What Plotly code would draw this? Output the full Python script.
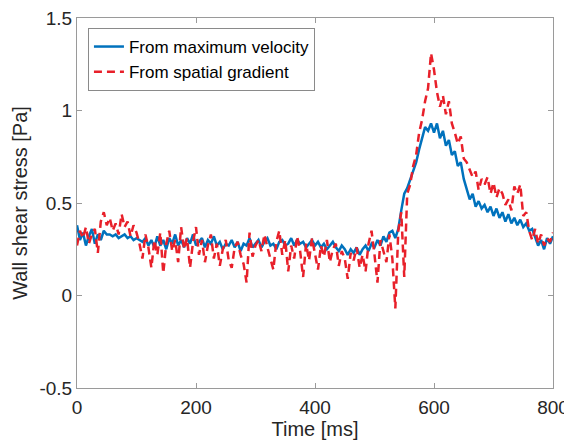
import plotly.graph_objects as go

# time axis [ms], one sample every 5 ms
time_ms = list(range(0, 801, 5))

wss_max_velocity = [
    0.38, 0.30, 0.34, 0.27, 0.32, 0.36, 0.28, 0.33, 0.30, 0.35, 0.33,
    0.33, 0.32, 0.33, 0.31, 0.32, 0.33, 0.31, 0.32, 0.30, 0.31,
    0.30, 0.29, 0.31, 0.27, 0.30, 0.26, 0.32, 0.27, 0.30, 0.25,
    0.31, 0.28, 0.33, 0.27, 0.30, 0.26, 0.31, 0.28, 0.33, 0.27,
    0.29, 0.31, 0.26, 0.30, 0.28, 0.32, 0.27, 0.29, 0.25, 0.28,
    0.27, 0.30, 0.26, 0.29, 0.24, 0.28, 0.27, 0.31, 0.26, 0.28,
    0.30, 0.26, 0.29, 0.31, 0.27, 0.28, 0.25, 0.29, 0.30, 0.27,
    0.28, 0.31, 0.27, 0.30, 0.28, 0.29, 0.26, 0.28, 0.30, 0.27,
    0.29, 0.26, 0.28, 0.25, 0.27, 0.29, 0.26, 0.24, 0.27, 0.25,
    0.22, 0.25, 0.23, 0.26, 0.22, 0.25, 0.27, 0.24, 0.28, 0.26,
    0.30, 0.27, 0.32, 0.29, 0.34, 0.35, 0.31, 0.36, 0.46, 0.55,
    0.58, 0.63, 0.67, 0.72, 0.79, 0.85, 0.91, 0.89, 0.93, 0.88,
    0.93, 0.85, 0.89, 0.81, 0.84, 0.76, 0.78, 0.70, 0.72, 0.63,
    0.58, 0.52, 0.55, 0.48, 0.51, 0.47, 0.49, 0.45, 0.48, 0.43,
    0.47, 0.42, 0.45, 0.40, 0.44, 0.39, 0.42, 0.38, 0.41, 0.37,
    0.39, 0.35, 0.36, 0.31, 0.27, 0.30, 0.25, 0.31, 0.28, 0.32,
]

wss_spatial_gradient = [
    0.27, 0.35, 0.31, 0.37, 0.28, 0.33, 0.36, 0.23, 0.40, 0.45, 0.38,
    0.42, 0.35, 0.39, 0.33, 0.44, 0.37, 0.40, 0.32, 0.38, 0.34,
    0.28, 0.20, 0.33, 0.26, 0.15, 0.30, 0.22, 0.34, 0.12, 0.28,
    0.35, 0.24, 0.30, 0.18, 0.37, 0.25, 0.31, 0.15, 0.29, 0.37,
    0.22, 0.30, 0.18, 0.27, 0.33, 0.20, 0.28, 0.16, 0.25, 0.30,
    0.19, 0.15, 0.26, 0.29, 0.22, 0.17, 0.07, 0.34, 0.21, 0.27,
    0.30, 0.24, 0.33, 0.26, 0.20, 0.14, 0.29, 0.35, 0.22, 0.30,
    0.13, 0.27, 0.20, 0.32, 0.24, 0.10, 0.28, 0.19, 0.31, 0.23,
    0.14, 0.27, 0.21, 0.30, 0.18, 0.25, 0.28, 0.16, 0.24, 0.20,
    0.09, 0.23, 0.19, 0.26, 0.15, 0.22, 0.13, 0.28, 0.35, 0.22,
    0.07, 0.30, 0.24, 0.18, 0.33, 0.20, -0.07, 0.35, 0.45, 0.10,
    0.55, 0.60, 0.70, 0.76, 0.88, 0.95, 1.05, 1.12, 1.31, 1.22,
    1.10, 1.02, 1.08, 0.98, 1.05, 0.93, 0.88, 0.82, 0.86, 0.74,
    0.72, 0.68, 0.64, 0.67, 0.57, 0.63, 0.60, 0.64, 0.55, 0.61,
    0.53, 0.58, 0.55, 0.49, 0.52, 0.46, 0.59, 0.55, 0.60, 0.43,
    0.45, 0.35, 0.30, 0.36, 0.28, 0.33, 0.27, 0.31, 0.29, 0.34,
]

assert len(time_ms) == len(wss_max_velocity) == len(wss_spatial_gradient)

x_tick_vals = [0, 200, 400, 600, 800]
x_tick_text = ["0", "200", "400", "600", "800"]
y_tick_vals = [-0.5, 0, 0.5, 1, 1.5]
y_tick_text = ["-0.5", "0", "0.5", "1", "1.5"]

FONT = "Liberation Sans, Arial, sans-serif"
AXIS_COLOR = "#9a9a9a"
TEXT_COLOR = "#262626"

fig = go.Figure()
fig.add_trace(go.Scatter(
    x=time_ms, y=wss_max_velocity, mode="lines",
    name="From maximum velocity",
    line=dict(color="#0072BD", width=2.5),
))
fig.add_trace(go.Scatter(
    x=time_ms, y=wss_spatial_gradient, mode="lines",
    name="From spatial gradient",
    line=dict(color="#e8202a", width=2.5, dash="8px,5px"),
))

axis_common = dict(
    showgrid=False, zeroline=False, automargin=False,
    showline=True, linecolor=AXIS_COLOR, linewidth=1, mirror="ticks",
    ticks="inside", ticklen=5, tickcolor=AXIS_COLOR, tickwidth=1,
    ticklabeloverflow="allow",
    tickfont=dict(family=FONT, size=19, color=TEXT_COLOR),
)

# the page body adds an 8 px offset, so the figure is 8 px smaller
fig.update_layout(
    width=564, height=433,
    margin=dict(l=69, r=19, t=10, b=53),
    paper_bgcolor="white", plot_bgcolor="white",
    font=dict(family=FONT, color=TEXT_COLOR),
    xaxis=dict(
        range=[0, 800], tickvals=x_tick_vals, ticktext=x_tick_text,
        ticklabelstandoff=2,
        title=dict(text="Time [ms]", font=dict(family=FONT, size=20, color=TEXT_COLOR), standoff=2),
        **axis_common,
    ),
    yaxis=dict(
        range=[-0.5, 1.5], tickvals=y_tick_vals, ticktext=y_tick_text,
        title=dict(text="Wall shear stress [Pa]", font=dict(family=FONT, size=20, color=TEXT_COLOR), standoff=6),
        **axis_common,
    ),
    legend=dict(
        x=0.023, y=0.973, xanchor="left", yanchor="top",
        bgcolor="white", bordercolor="#8a8a8a", borderwidth=1,
        font=dict(family=FONT, size=17, color="black"),
        tracegroupgap=0, itemwidth=30,
    ),
    showlegend=True,
)

fig.write_html("out.html")
